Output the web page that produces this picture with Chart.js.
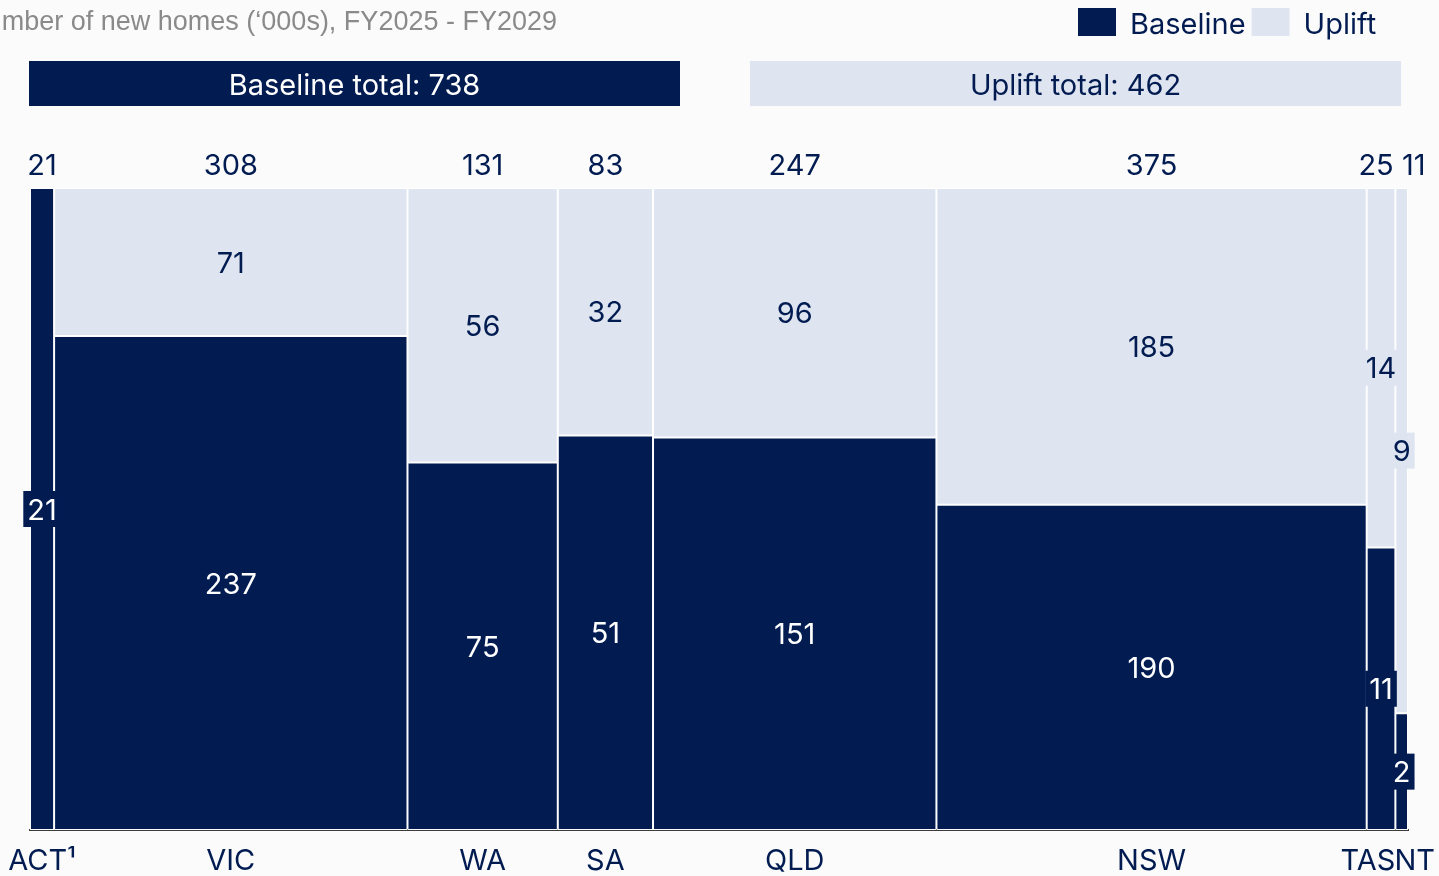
<!DOCTYPE html>
<html>
<head>
<meta charset="utf-8">
<script src="https://cdn.jsdelivr.net/npm/chart.js@4"></script>
<style>
  html, body { margin: 0; padding: 0; background: #fbfbfc; }
  #wrap { width: 1439px; height: 876px; }
</style>
</head>
<body>
<div id="wrap"><canvas id="c"></canvas></div>
<script>
// data, '000s of new homes FY2025 - FY2029
const regions  = ['ACT¹', 'VIC', 'WA', 'SA', 'QLD', 'NSW', 'TAS', 'NT'];
const baseline = [21, 237, 75, 51, 151, 190, 11, 2];
const uplift   = [0, 71, 56, 32, 96, 185, 14, 9];
const totals   = [21, 308, 131, 83, 247, 375, 25, 11];
const bannerTotals = [738, 462];   // Baseline, Uplift as printed

const DARK = '#021c52';
const LIGHT = '#dfe5f0';
const FONT = 'Inter, Roboto, sans-serif';
const SIZE = 29;
const CAP = SIZE * 0.727;

// small label nudges (px) so the thin columns do not collide
const topNudge = [0, 0, 0, 0, 0, 0, -5, 12];
const bottomNudge = [0, 0, 0, 0, 0, 0, -13, 13];

const starts = [];
totals.reduce((acc, t) => { starts.push(acc); return acc + t; }, 0);
const grandTotal = totals.reduce((a, b) => a + b, 0);

const pct = (arr) => arr.map((v, i) => ({ x: starts[i] + totals[i] / 2, y: v / totals[i] * 100 }));

// text centred vertically on cy (by cap height)
function txt(ctx, s, x, cy) {
  ctx.fillText(s, x, cy + CAP / 2);
}

const marimekko = {
  id: 'marimekko',
  // give every column a width proportional to its total
  afterDatasetsUpdate(chart) {
    const xs = chart.scales.x;
    chart.data.datasets.forEach((ds, d) => {
      chart.getDatasetMeta(d).data.forEach((el, i) => {
        const x0 = xs.getPixelForValue(starts[i]);
        const x1 = xs.getPixelForValue(starts[i] + totals[i]);
        el.x = (x0 + x1) / 2;
        el.width = x1 - x0;
      });
    });
  },
  afterDraw(chart) {
    const { ctx, chartArea } = chart;
    const xs = chart.scales.x;
    ctx.save();
    ctx.textBaseline = 'alphabetic';

    // title (cropped at the left edge like the source)
    ctx.font = '27px "Liberation Sans", Arial, sans-serif';
    ctx.fillStyle = '#8a8a8a';
    ctx.textAlign = 'right';
    ctx.fillText('Number of new homes (‘000s), FY2025 - FY2029', 557, 20 + 27 * 0.716 / 2);

    // legend
    ctx.font = SIZE + 'px ' + FONT;
    ctx.textAlign = 'left';
    let lx = 1078;
    chart.data.datasets.forEach((ds) => {
      ctx.fillStyle = ds.backgroundColor;
      ctx.fillRect(lx, 8, 38, 28);
      ctx.fillStyle = DARK;
      txt(ctx, ds.label, lx + 52, 23);
      lx += 52 + ctx.measureText(ds.label).width + 6;
    });

    // total banners
    const bw = 651;
    const banners = [
      { x: chartArea.left - 1, bg: DARK, fg: '#ffffff', text: 'Baseline total: ' + bannerTotals[0] },
      { x: chartArea.left - 1 + bw + 70, bg: LIGHT, fg: DARK, text: 'Uplift total: ' + bannerTotals[1] }
    ];
    ctx.textAlign = 'center';
    banners.forEach(b => {
      ctx.fillStyle = b.bg;
      ctx.fillRect(b.x, 61, bw, 45);
      ctx.fillStyle = b.fg;
      txt(ctx, b.text, b.x + bw / 2, 84);
    });

    // column totals and region names
    regions.forEach((r, i) => {
      const cx = xs.getPixelForValue(starts[i] + totals[i] / 2);
      ctx.fillStyle = DARK;
      txt(ctx, String(totals[i]), cx + topNudge[i], chartArea.top - 23.5);
      txt(ctx, r, cx + bottomNudge[i], chartArea.bottom + 29);
    });

    // segment values
    [baseline, uplift].forEach((vals, d) => {
      const ds = chart.data.datasets[d];
      chart.getDatasetMeta(d).data.forEach((el, i) => {
        if (!vals[i]) return;
        const cy = (el.y + el.base) / 2;
        const s = String(vals[i]);
        const tw = ctx.measureText(s).width;
        if (tw + 8 > el.width) {
          ctx.fillStyle = ds.backgroundColor;
          ctx.fillRect(el.x - tw / 2 - 4, cy - 18, tw + 8, 36);
        }
        ctx.fillStyle = d === 0 ? '#ffffff' : DARK;
        txt(ctx, s, el.x, cy);
      });
    });
    ctx.restore();
  }
};

new Chart(document.getElementById('c'), {
  type: 'bar',
  data: {
    datasets: [
      { label: 'Baseline', data: pct(baseline), backgroundColor: DARK,
        borderColor: '#ffffff', borderWidth: 1, borderSkipped: false },
      { label: 'Uplift', data: pct(uplift), backgroundColor: LIGHT,
        borderColor: '#ffffff', borderWidth: 1, borderSkipped: false }
    ]
  },
  options: {
    responsive: true,
    maintainAspectRatio: false,
    animation: false,
    layout: { padding: { top: 188, left: 30, right: 31, bottom: 46 } },
    plugins: { legend: { display: false }, tooltip: { enabled: false } },
    scales: {
      x: {
        type: 'linear', min: 0, max: grandTotal, stacked: true, offset: false, z: 1,
        ticks: { display: false },
        grid: { display: false, drawTicks: false },
        border: { display: true, color: '#3c3c3c', width: 2 }
      },
      y: { stacked: true, min: 0, max: 100, display: false }
    }
  },
  plugins: [marimekko]
});
</script>
</body>
</html>
